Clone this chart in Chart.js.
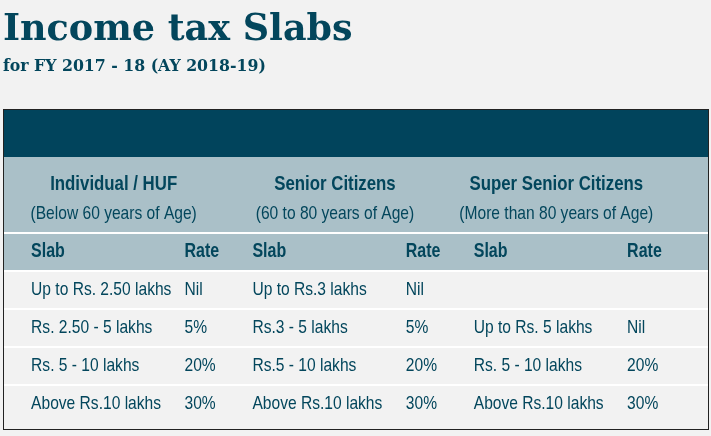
<!DOCTYPE html>
<html>
<head>
<meta charset="utf-8">
<script src="https://cdn.jsdelivr.net/npm/chart.js@4.4.1/dist/chart.umd.min.js"></script>
<style>
  html, body { margin: 0; padding: 0; background: #f2f2f2; }
  #wrap { width: 711px; height: 436px; position: relative; }
</style>
</head>
<body>
<div id="wrap"><canvas id="slabChart"></canvas></div>
<script>
// table content
const groups = ["Individual / HUF", "Senior Citizens", "Super Senior Citizens"];
const ageBands = ["(Below 60 years of Age)", "(60 to 80 years of Age)", "(More than 80 years of Age)"];
const columnHeads = ["Slab", "Rate"];
const individualSlabs = ["Up to Rs. 2.50 lakhs", "Rs. 2.50 - 5 lakhs", "Rs. 5 - 10 lakhs", "Above Rs.10 lakhs"];
const individualRates = [0, 5, 20, 30];
const seniorSlabs = ["Up to Rs.3 lakhs", "Rs.3 - 5 lakhs", "Rs.5 - 10 lakhs", "Above Rs.10 lakhs"];
const seniorRates = [0, 5, 20, 30];
const superSlabs = [null, "Up to Rs. 5 lakhs", "Rs. 5 - 10 lakhs", "Above Rs.10 lakhs"];
const superRates = [null, 0, 20, 30];
const rowKeys = ["group", "age", "head", "row1", "row2", "row3", "row4"];

(function () {
  const ink = "#03465c";
  const band = "#01445c";
  const headBg = "#aac0c8";
  const bodyBg = "#f2f2f2";
  // no narrow face installed, so Liberation Sans gets squeezed like Arial Narrow
  const sans = '"Liberation Sans", Arial, sans-serif';
  const squeeze = 0.82;

  const headerRows = 3;
  const xMax = 3.19;
  const slabInset = 0.127;
  const rateInset = 0.82;
  const bandHeight = 48;

  const slabCols = [individualSlabs, seniorSlabs, superSlabs];
  const rateCols = [individualRates, seniorRates, superRates];

  function rateText(v) {
    if (v === null) return "";
    return v === 0 ? "Nil" : v + "%";
  }

  function narrowText(ctx, text, px, py, font, align) {
    ctx.save();
    ctx.font = font;
    ctx.textAlign = align;
    ctx.translate(px, py);
    ctx.scale(squeeze, 1);
    ctx.fillText(text, 0, 0);
    ctx.restore();
  }

  const tablePlugin = {
    id: "slabTable",
    beforeDatasetsDraw(chart) {
      const { ctx, chartArea } = chart;
      ctx.save();
      ctx.fillStyle = band;
      ctx.fillRect(chartArea.left, chartArea.top - bandHeight, chartArea.right - chartArea.left, bandHeight);
      ctx.restore();
    },
    afterDatasetsDraw(chart) {
      const { ctx, chartArea, scales } = chart;
      const x = scales.x;
      const y = scales.y;
      const rowCenter = (i) => y.getPixelForValue(i);
      const rowEdge = (i) => (y.getPixelForValue(i) + y.getPixelForValue(i + 1)) / 2;

      ctx.save();
      // white row separators
      ctx.strokeStyle = "#ffffff";
      ctx.lineWidth = 2;
      for (let i = 1; i < rowKeys.length - 1; i++) {
        const yy = rowEdge(i);
        ctx.beginPath();
        ctx.moveTo(chartArea.left, yy);
        ctx.lineTo(chartArea.right, yy);
        ctx.stroke();
      }

      ctx.fillStyle = ink;
      ctx.textBaseline = "middle";

      // group headers
      groups.forEach((g, gi) => {
        narrowText(ctx, g, x.getPixelForValue(gi + 0.5), rowCenter(0) + 8, "bold 20.5px " + sans, "center");
        narrowText(ctx, ageBands[gi], x.getPixelForValue(gi + 0.5), rowCenter(1), "19px " + sans, "center");
      });

      // column heads
      groups.forEach((g, gi) => {
        narrowText(ctx, columnHeads[0], x.getPixelForValue(gi + slabInset), rowCenter(2), "bold 19.5px " + sans, "left");
        narrowText(ctx, columnHeads[1], x.getPixelForValue(gi + rateInset), rowCenter(2), "bold 19.5px " + sans, "left");
      });

      // body
      slabCols.forEach((col, gi) => {
        col.forEach((s, ri) => {
          const yy = rowCenter(headerRows + ri);
          if (s) narrowText(ctx, s, x.getPixelForValue(gi + slabInset), yy, "19px " + sans, "left");
          narrowText(ctx, rateText(rateCols[gi][ri]), x.getPixelForValue(gi + rateInset), yy, "19px " + sans, "left");
        });
      });

      // outer frame
      ctx.strokeStyle = "#222222";
      ctx.lineWidth = 1;
      ctx.strokeRect(chartArea.left + 0.5, chartArea.top - bandHeight + 0.5,
        chartArea.right - chartArea.left - 1, chartArea.bottom - chartArea.top + bandHeight + 6);
      ctx.restore();
    }
  };

  const ctx = document.getElementById("slabChart").getContext("2d");
  new Chart(ctx, {
    type: "bar",
    data: {
      labels: rowKeys,
      datasets: [
        {
          data: rowKeys.map(() => [0, xMax]),
          backgroundColor: rowKeys.map((k, i) => (i < headerRows ? headBg : bodyBg)),
          borderWidth: 0,
          barPercentage: 1,
          categoryPercentage: 1
        }
      ]
    },
    options: {
      indexAxis: "y",
      responsive: true,
      maintainAspectRatio: false,
      animation: false,
      layout: { padding: { left: 3, right: 2, bottom: 13, top: 0 } },
      plugins: {
        legend: { display: false },
        tooltip: { enabled: false },
        title: {
          display: true,
          text: "Income tax Slabs",
          align: "start",
          color: ink,
          font: { family: '"DejaVu Serif", serif', size: 36.5, weight: "bold", lineHeight: 1 },
          padding: { top: 12, bottom: 0 }
        },
        subtitle: {
          display: true,
          text: "for FY 2017 - 18 (AY 2018-19)",
          align: "start",
          color: ink,
          font: { family: '"DejaVu Serif Condensed", "DejaVu Serif", serif', size: 17.5, weight: "bold", lineHeight: 1 },
          padding: { top: 9, bottom: 82 }
        }
      },
      scales: {
        x: { type: "linear", min: 0, max: xMax, display: false },
        y: { type: "category", display: false }
      }
    },
    plugins: [tablePlugin]
  });
})();
</script>
</body>
</html>
